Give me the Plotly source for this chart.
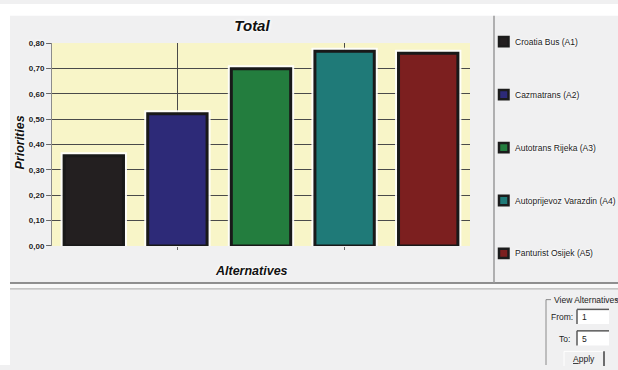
import plotly.graph_objects as go

# --- data -------------------------------------------------------------
alternatives = ["Croatia Bus (A1)", "Cazmatrans (A2)", "Autotrans Rijeka (A3)",
                "Autoprijevoz Varazdin (A4)", "Panturist Osijek (A5)"]
priorities = [0.356, 0.521, 0.699, 0.768, 0.760]
bar_colors = ["#231f20", "#2d2a78", "#237d3e", "#1f7a78", "#7c1f1f"]
y_ticks = [0.0, 0.1, 0.2, 0.3, 0.4, 0.5, 0.6, 0.7, 0.8]
view_from, view_to = "1", "5"

W, H = 618, 370
FONT = "Liberation Sans, Arial, sans-serif"
HALO = "0 0 2px #ffffff, 0 0 3px #ffffff, 0 0 4px #ffffff"
PANEL = "#f0f0f1"


def px(x):
    return x / W


def py(y):
    return 1 - y / H


positions = list(range(1, len(priorities) + 1))

fig = go.Figure()

# soft white glow behind every bar
fig.add_trace(go.Bar(
    x=positions, y=priorities, width=0.71,
    marker=dict(color="#ffffff", line=dict(color="#ffffff", width=7)),
    opacity=0.9, hoverinfo="skip", showlegend=False,
))
# the bars themselves
fig.add_trace(go.Bar(
    x=positions, y=priorities, width=0.71,
    marker=dict(color=bar_colors, line=dict(color="#191919", width=3)),
    hovertext=alternatives, hoverinfo="text+y", showlegend=False,
))

shapes = []
annotations = []

# window frame: white margins around the grey panels
shapes += [
    dict(type="rect", xref="paper", yref="paper", x0=0, x1=1, y0=py(12), y1=1,
         fillcolor="#ffffff", line=dict(width=0), layer="below"),
    dict(type="rect", xref="paper", yref="paper", x0=0, x1=px(10), y0=0, y1=1,
         fillcolor="#ffffff", line=dict(width=0), layer="below"),
    dict(type="rect", xref="paper", yref="paper", x0=px(10), x1=px(618), y0=py(291.5), y1=py(286.5),
         fillcolor="#f9f9f9", line=dict(width=0), layer="below"),
    dict(type="line", xref="paper", yref="paper", x0=px(10), x1=px(618), y0=py(286), y1=py(286),
         line=dict(color="#6e6e6e", width=1.5)),
    dict(type="line", xref="paper", yref="paper", x0=px(10), x1=px(618), y0=py(292), y1=py(292),
         line=dict(color="#a8a8a8", width=1)),
    dict(type="line", xref="paper", yref="paper", x0=px(494), x1=px(494), y0=py(286), y1=py(12),
         line=dict(color="#9a9a9a", width=1.5)),
]

# legend: dark-edged swatches with the series colour in the centre
for i, (name, col) in enumerate(zip(alternatives, bar_colors)):
    yc = 38.5 + 54.3 * i
    shapes.append(dict(type="rect", xref="paper", yref="paper",
                       x0=px(499), x1=px(508.5), y0=py(yc + 4.75), y1=py(yc - 4.75),
                       fillcolor=col, line=dict(color="#1c1c1c", width=2.5)))
    annotations.append(dict(text=name, xref="paper", yref="paper", x=px(513), y=py(yc),
                            xanchor="left", yanchor="middle", showarrow=False,
                            font=dict(family=FONT, size=8.5, color="#1a1a1a", shadow=HALO)))

# axis titles
annotations += [
    dict(text="Priorities", xref="paper", yref="paper", x=px(20), y=py(142), textangle=-90,
         xanchor="center", yanchor="middle", showarrow=False,
         font=dict(family=FONT, size=12.5, color="#111111", weight="bold", style="italic", shadow=HALO)),
    dict(text="Alternatives", xref="paper", yref="paper", x=px(251), y=py(274),
         xanchor="center", yanchor="middle", showarrow=False,
         font=dict(family=FONT, size=12.5, color="#111111", weight="bold", style="italic", shadow=HALO)),
]

# "View Alternatives" group box
GB = "#8a8a8a"
shapes += [
    dict(type="line", xref="paper", yref="paper", x0=px(546), x1=px(546), y0=py(370), y1=py(303),
         line=dict(color=GB, width=1)),
    dict(type="line", xref="paper", yref="paper", x0=px(546), x1=px(551), y0=py(303), y1=py(303),
         line=dict(color=GB, width=1)),
    dict(type="line", xref="paper", yref="paper", x0=px(615), x1=px(618), y0=py(303), y1=py(303),
         line=dict(color=GB, width=1)),
]
for top in (313, 335):
    shapes += [
        dict(type="rect", xref="paper", yref="paper", x0=px(577), x1=px(609), y0=py(top + 15), y1=py(top),
             fillcolor="#ffffff", line=dict(width=0)),
        dict(type="line", xref="paper", yref="paper", x0=px(577), x1=px(609), y0=py(top), y1=py(top),
             line=dict(color="#5a5a5a", width=1.5)),
        dict(type="line", xref="paper", yref="paper", x0=px(577), x1=px(577), y0=py(top + 15), y1=py(top),
             line=dict(color="#5a5a5a", width=1.5)),
    ]
# Apply button
shapes += [
    dict(type="line", xref="paper", yref="paper", x0=px(564), x1=px(604), y0=py(356), y1=py(356),
         line=dict(color="#ffffff", width=1)),
    dict(type="line", xref="paper", yref="paper", x0=px(564), x1=px(564), y0=py(371), y1=py(356),
         line=dict(color="#ffffff", width=1)),
    dict(type="line", xref="paper", yref="paper", x0=px(604), x1=px(604), y0=py(371), y1=py(356),
         line=dict(color="#404040", width=1.5)),
]
ui_font = dict(family=FONT, size=8.5, color="#222222")
annotations += [
    dict(text="View Alternatives", xref="paper", yref="paper", x=px(551.5), y=py(303),
         xanchor="left", yanchor="middle", showarrow=False, font=ui_font),
    dict(text="From:", xref="paper", yref="paper", x=px(575), y=py(321),
         xanchor="right", yanchor="middle", showarrow=False, font=ui_font),
    dict(text=view_from, xref="paper", yref="paper", x=px(580), y=py(321),
         xanchor="left", yanchor="middle", showarrow=False, font=ui_font),
    dict(text="To:", xref="paper", yref="paper", x=px(572), y=py(343),
         xanchor="right", yanchor="middle", showarrow=False, font=ui_font),
    dict(text=view_to, xref="paper", yref="paper", x=px(580), y=py(343),
         xanchor="left", yanchor="middle", showarrow=False, font=ui_font),
    dict(text="<u>A</u>pply", xref="paper", yref="paper", x=px(584), y=py(363.5),
         xanchor="center", yanchor="middle", showarrow=False, font=ui_font),
]

fig.update_layout(
    width=W, height=H,
    margin=dict(l=0, r=0, t=0, b=0),
    paper_bgcolor=PANEL,
    plot_bgcolor="#f8f5c8",
    separators=",.",
    barmode="overlay",
    showlegend=False,
    title=dict(text="Total", x=px(252), y=py(22), xref="paper", yref="paper",
               xanchor="center", yanchor="middle",
               font=dict(family=FONT, size=15, color="#111111", weight="bold",
                         style="italic", shadow=HALO)),
    xaxis=dict(domain=[px(52), px(470)], range=[0.5, 5.5],
               tickvals=[2, 4], showticklabels=False, ticks="outside", ticklen=3,
               tickcolor="#666666", showgrid=True, gridcolor="#4a4a4a", gridwidth=1,
               zeroline=False, showline=False, fixedrange=True),
    yaxis=dict(domain=[py(248), py(40)], range=[0, 0.8],
               tickvals=y_ticks, tickformat=".2f", ticks="outside", ticklen=5,
               tickcolor="#666666", showgrid=True, gridcolor="#4a4a4a", gridwidth=1,
               showline=True, linecolor="#8c8c8c", linewidth=1, zeroline=False,
               tickfont=dict(family=FONT, size=8, color="#1a1a1a", weight="bold", shadow=HALO),
               fixedrange=True),
    shapes=shapes,
    annotations=annotations,
)

fig.write_html("out.html", config={"displayModeBar": False})
